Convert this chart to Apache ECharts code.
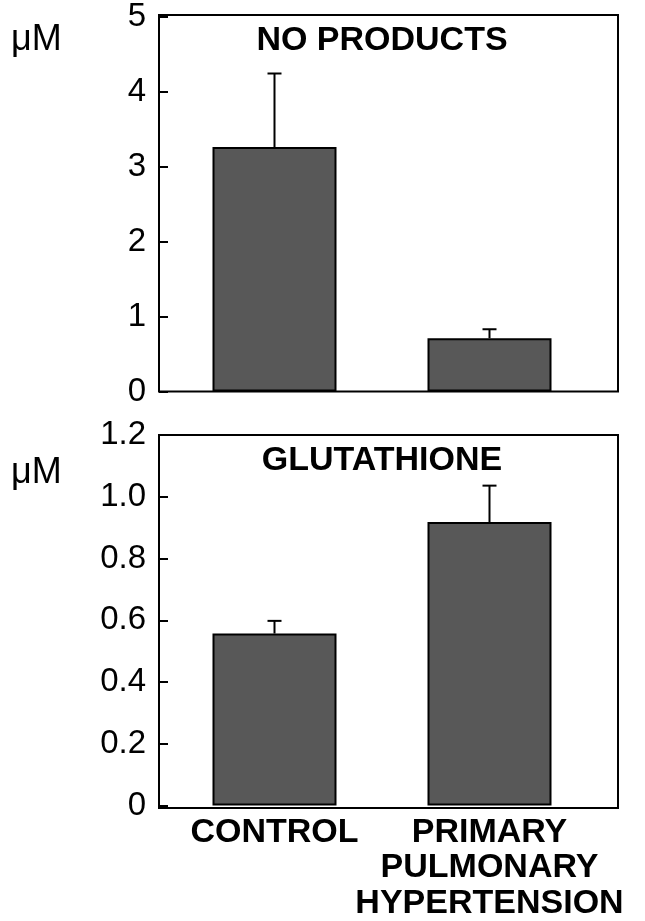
<!DOCTYPE html>
<html>
<head>
<meta charset="utf-8">
<script src="https://cdn.jsdelivr.net/npm/echarts@6/dist/echarts.min.js"></script>
<style>
html,body{margin:0;padding:0;background:#fff;}
#chart{width:645px;height:921px;}
</style>
</head>
<body>
<div id="chart"></div>
<script>
// ---- data ----
const categories = ['CONTROL', 'PRIMARY\nPULMONARY\nHYPERTENSION'];
const noProductsMean = [3.26, 0.71];
const noProductsErr = [0.98, 0.12];
const glutathioneMean = [0.557, 0.918];
const glutathioneErr = [0.041, 0.118];
const noTicks = [0, 1, 2, 3, 4, 5];
const gsTicks = ['0', '0.2', '0.4', '0.6', '0.8', '1.0', '1.2'];
const panelTitles = ['NO PRODUCTS', 'GLUTATHIONE'];
const unitLabel = 'μM';

const FONT = '"Liberation Sans", Arial, Helvetica, sans-serif';
const chart = echarts.init(document.getElementById('chart'), null, {renderer: 'canvas'});

function errRender(params, api) {
  const x = api.value(0), m = api.value(1), e = api.value(2);
  const b = api.coord([x, m]);
  const t = api.coord([x, m + e]);
  const st = {stroke: '#000', lineWidth: 2};
  return {
    type: 'group',
    children: [
      {type: 'line', shape: {x1: b[0], y1: b[1], x2: t[0], y2: t[1]}, style: st},
      {type: 'line', shape: {x1: t[0] - 7, y1: t[1], x2: t[0] + 7, y2: t[1]}, style: st}
    ]
  };
}

const barLeft = 167, barRight = 48, frameLeft = 159, frameRight = 27;
const topT = 15, topB = 529.5, botT = 435, botB = 113;

const yLabelStyle = {color: '#000', fontFamily: FONT, fontSize: 33, margin: 13};

const option = {
  backgroundColor: '#fff',
  animation: false,
  grid: [
    {left: barLeft, right: barRight, top: topT, bottom: topB},
    {left: barLeft, right: barRight, top: botT, bottom: botB},
    {left: frameLeft, right: frameRight, top: topT, bottom: topB, show: true, borderColor: '#000', borderWidth: 2, backgroundColor: 'transparent', z: 5},
    {left: frameLeft, right: frameRight, top: botT, bottom: botB, show: true, borderColor: '#000', borderWidth: 2, backgroundColor: 'transparent', z: 5}
  ],
  xAxis: [
    {type: 'category', gridIndex: 0, data: categories, axisLine: {show: false}, axisTick: {show: false}, axisLabel: {show: false}},
    {type: 'category', gridIndex: 1, data: categories, axisLine: {show: false}, axisTick: {show: false},
     axisLabel: {color: '#000', fontFamily: FONT, fontWeight: 'bold', fontSize: 34, lineHeight: 35.5, margin: 9, interval: 0}},
    {type: 'value', gridIndex: 2, show: false},
    {type: 'value', gridIndex: 3, show: false}
  ],
  yAxis: [
    {type: 'value', gridIndex: 0, min: 0, max: 5, interval: 1, offset: barLeft - frameLeft,
     axisLine: {show: false}, axisTick: {show: true, inside: true, length: 9, lineStyle: {color: '#000', width: 2}},
     splitLine: {show: false},
     axisLabel: Object.assign({}, yLabelStyle, {formatter: function (v) { return String(noTicks[Math.round(v)]); }})},
    {type: 'value', gridIndex: 1, min: 0, max: 1.2, interval: 0.2, offset: barLeft - frameLeft,
     axisLine: {show: false}, axisTick: {show: true, inside: true, length: 9, lineStyle: {color: '#000', width: 2}},
     splitLine: {show: false},
     axisLabel: Object.assign({}, yLabelStyle, {formatter: function (v) { return gsTicks[Math.round(v / 0.2)]; }})},
    {type: 'value', gridIndex: 2, show: false},
    {type: 'value', gridIndex: 3, show: false}
  ],
  series: [
    {type: 'bar', xAxisIndex: 0, yAxisIndex: 0, data: noProductsMean, barWidth: 124,
     itemStyle: {color: '#585858', borderColor: '#000', borderWidth: 2}},
    {type: 'custom', xAxisIndex: 0, yAxisIndex: 0, renderItem: errRender, z: 10,
     data: categories.map((c, i) => [i, noProductsMean[i], noProductsErr[i]])},
    {type: 'bar', xAxisIndex: 1, yAxisIndex: 1, data: glutathioneMean, barWidth: 124,
     itemStyle: {color: '#585858', borderColor: '#000', borderWidth: 2}},
    {type: 'custom', xAxisIndex: 1, yAxisIndex: 1, renderItem: errRender, z: 10,
     data: categories.map((c, i) => [i, glutathioneMean[i], glutathioneErr[i]])}
  ],
  graphic: [
    {type: 'text', x: 382, y: 24, style: {text: panelTitles[0], textAlign: 'center', fill: '#000', font: 'bold 34px ' + FONT}},
    {type: 'text', x: 382, y: 444, style: {text: panelTitles[1], textAlign: 'center', fill: '#000', font: 'bold 34px ' + FONT}},
    {type: 'text', x: 11, y: 22, style: {text: unitLabel, textAlign: 'left', fill: '#000', font: '36px ' + FONT}},
    {type: 'text', x: 11, y: 455, style: {text: unitLabel, textAlign: 'left', fill: '#000', font: '36px ' + FONT}}
  ]
};
chart.setOption(option);
</script>
</body>
</html>
